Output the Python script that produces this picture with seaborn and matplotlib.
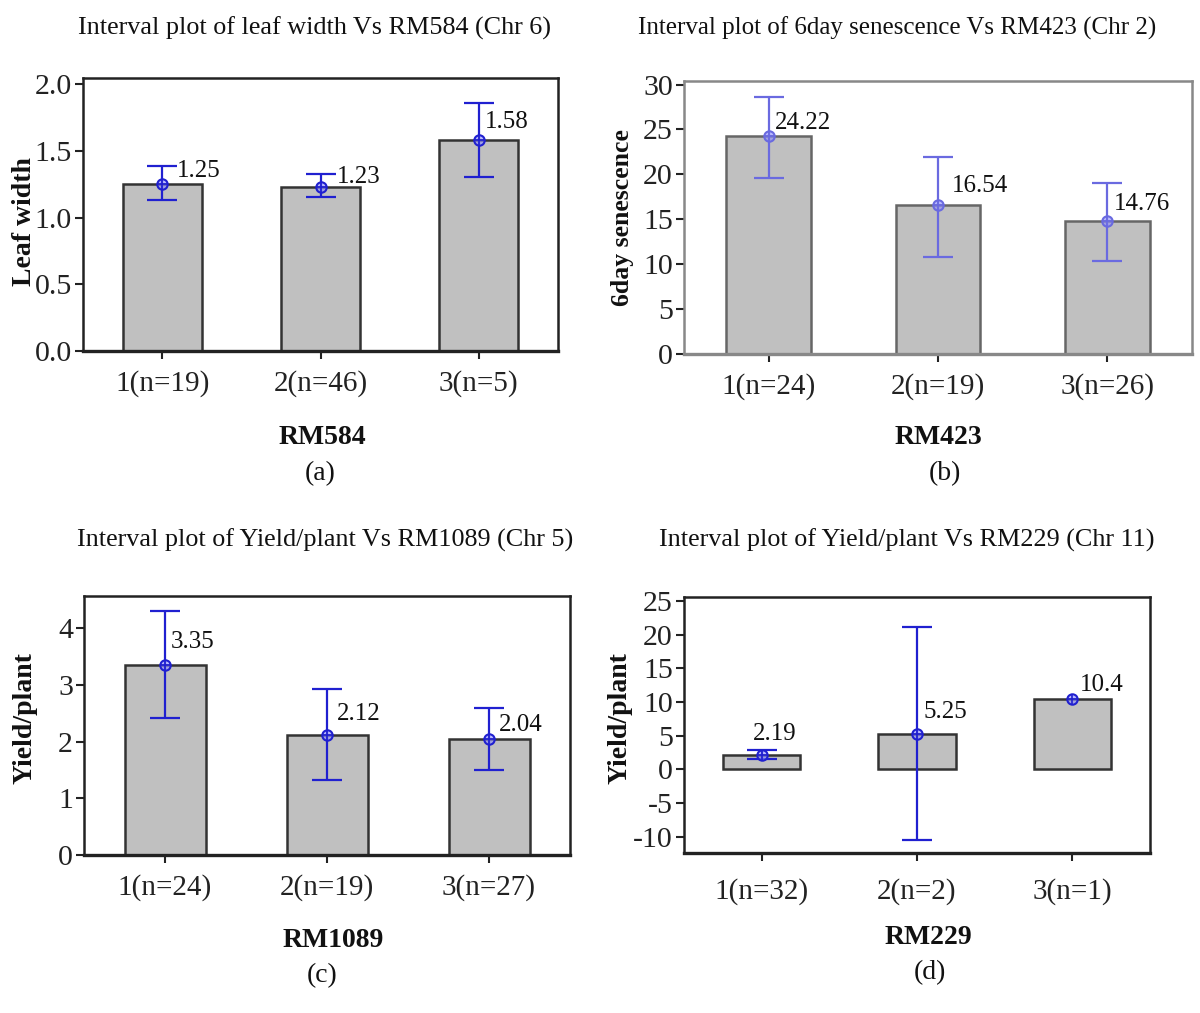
import numpy as np
import pandas as pd
import seaborn as sns
import matplotlib.pyplot as plt

sns.set_theme(style="white")
plt.rcParams["font.family"] = ["Liberation Serif", "DejaVu Serif"]

# (a) leaf width vs RM584
a_groups = ["1(n=19)", "2(n=46)", "3(n=5)"]
a_mean = [1.25, 1.23, 1.58]
a_low = [1.13, 1.155, 1.30]
a_high = [1.385, 1.325, 1.86]

# (b) 6day senescence vs RM423
b_groups = ["1(n=24)", "2(n=19)", "3(n=26)"]
b_mean = [24.22, 16.54, 14.76]
b_low = [19.6, 10.85, 10.4]
b_high = [28.6, 21.95, 19.0]

# (c) yield/plant vs RM1089
c_groups = ["1(n=24)", "2(n=19)", "3(n=27)"]
c_mean = [3.35, 2.12, 2.04]
c_low = [2.41, 1.33, 1.50]
c_high = [4.31, 2.93, 2.60]

# (d) yield/plant vs RM229
d_groups = ["1(n=32)", "2(n=2)", "3(n=1)"]
d_mean = [2.19, 5.25, 10.4]
d_low = [1.53, -10.5, np.nan]
d_high = [2.91, 21.1, np.nan]

W, H = 1200, 1013
fig = plt.figure(figsize=(W / 100, H / 100), dpi=100)


def box(l, t, r, b):
    return [l / W, 1 - b / H, (r - l) / W, (b - t) / H]


panels = [
    dict(rect=box(83, 78, 558, 351), groups=a_groups, mean=a_mean, low=a_low, high=a_high,
         ylim=(0, 2.045), yticks=np.arange(0, 2.01, 0.5), fmt="{:.1f}",
         title="Interval plot of leaf width Vs RM584 (Chr 6)", title_xy=(315, 28), title_size=18.8,
         ylabel="Leaf width", ylabel_xy=(25, 222), ylabel_size=20,
         xlabel="RM584", xlabel_xy=(322, 437), cap="(a)", cap_xy=(320, 474),
         offs=[(15, 13), (16, 10), (6, 18)], spine="#222222", edge="#333333",
         blue="#2020d0", pad=8),
    dict(rect=box(684, 81, 1192, 354), groups=b_groups, mean=b_mean, low=b_low, high=b_high,
         ylim=(0, 30.4), yticks=np.arange(0, 31, 5), fmt="{:.0f}",
         title="Interval plot of 6day senescence Vs RM423 (Chr 2)", title_xy=(897, 28), title_size=18,
         ylabel="6day senescence", ylabel_xy=(622, 218), ylabel_size=18.5,
         xlabel="RM423", xlabel_xy=(938, 437), cap="(b)", cap_xy=(945, 474),
         offs=[(6, 13), (14, 19), (7, 17)], spine="#888888", edge="#666666",
         blue="#6a6ae0", pad=8),
    dict(rect=box(84, 596, 570, 855), groups=c_groups, mean=c_mean, low=c_low, high=c_high,
         ylim=(0, 4.57), yticks=np.arange(0, 4.1, 1), fmt="{:.0f}",
         title="Interval plot of Yield/plant Vs RM1089 (Chr 5)", title_xy=(325, 540), title_size=18.8,
         ylabel="Yield/plant", ylabel_xy=(25, 718), ylabel_size=20,
         xlabel="RM1089", xlabel_xy=(333, 940), cap="(c)", cap_xy=(322, 976),
         offs=[(6, 23), (10, 21), (10, 14)], spine="#222222", edge="#333333",
         blue="#2020d0", pad=8),
    dict(rect=box(684, 597, 1150, 853), groups=d_groups, mean=d_mean, low=d_low, high=d_high,
         ylim=(-12.45, 25.6), yticks=np.arange(-10, 26, 5), fmt="{:.0f}",
         title="Interval plot of Yield/plant Vs RM229 (Chr 11)", title_xy=(907, 540), title_size=18.8,
         ylabel="Yield/plant", ylabel_xy=(620, 718), ylabel_size=20,
         xlabel="RM229", xlabel_xy=(928, 937), cap="(d)", cap_xy=(930, 973),
         offs=[(-9, 21), (7, 22), (8, 14)], spine="#222222", edge="#333333",
         blue="#2020d0", pad=12),
]

for p in panels:
    ax = fig.add_axes(p["rect"])
    df = pd.DataFrame({"group": p["groups"], "mean": p["mean"]})
    sns.barplot(data=df, x="group", y="mean", color="#c0c0c0", saturation=1,
                edgecolor=p["edge"], linewidth=1.8, width=0.5, errorbar=None, ax=ax)
    xs = np.arange(len(p["groups"]))
    mean = np.array(p["mean"])
    low = np.array(p["low"])
    high = np.array(p["high"])
    ax.errorbar(xs, mean, yerr=[mean - low, high - mean], fmt="none",
                ecolor=p["blue"], elinewidth=1.6, capsize=10.5, capthick=1.6, zorder=3)
    ax.plot(xs, mean, "o", ms=7.5, mfc=(0.55, 0.55, 1, 0.6), mec=p["blue"], mew=1.5, zorder=4)
    ax.plot(xs, mean, "+", ms=7.5, mec=p["blue"], mew=1.2, zorder=5)
    for x, m, (dx, dy) in zip(xs, mean, p["offs"]):
        ax.annotate(f"{m:g}", (x, m), xytext=(dx, dy), textcoords="offset pixels",
                    ha="left", va="center", fontsize=18, color="#111111")

    ax.set_xlim(-0.5, 2.5)
    ax.set_ylim(*p["ylim"])
    ax.set_yticks(p["yticks"])
    ax.set_yticklabels([p["fmt"].format(v) for v in p["yticks"]])
    ax.set_xlabel("")
    ax.set_ylabel("")
    ax.tick_params(axis="both", which="both", direction="out", length=6, width=1.5,
                   colors="#222222", left=True, bottom=True)
    ax.tick_params(axis="y", pad=2, labelsize=21.5)
    ax.tick_params(axis="x", pad=p["pad"], labelsize=21)
    for s in ax.spines.values():
        s.set_color(p["spine"])
        s.set_linewidth(1.8)
    ax.spines["bottom"].set_linewidth(2.4)

    fig.text(p["title_xy"][0] / W, 1 - p["title_xy"][1] / H, p["title"],
             ha="center", va="center", fontsize=p["title_size"], color="#111111")
    fig.text(p["ylabel_xy"][0] / W, 1 - p["ylabel_xy"][1] / H, p["ylabel"],
             ha="center", va="center", rotation=90, fontsize=p["ylabel_size"],
             fontweight="bold", color="#111111")
    fig.text(p["xlabel_xy"][0] / W, 1 - p["xlabel_xy"][1] / H, p["xlabel"],
             ha="center", va="center", fontsize=20, fontweight="bold", color="#111111")
    fig.text(p["cap_xy"][0] / W, 1 - p["cap_xy"][1] / H, p["cap"],
             ha="center", va="center", fontsize=20, color="#111111")

fig.savefig("out.png", dpi=100, facecolor="white")
